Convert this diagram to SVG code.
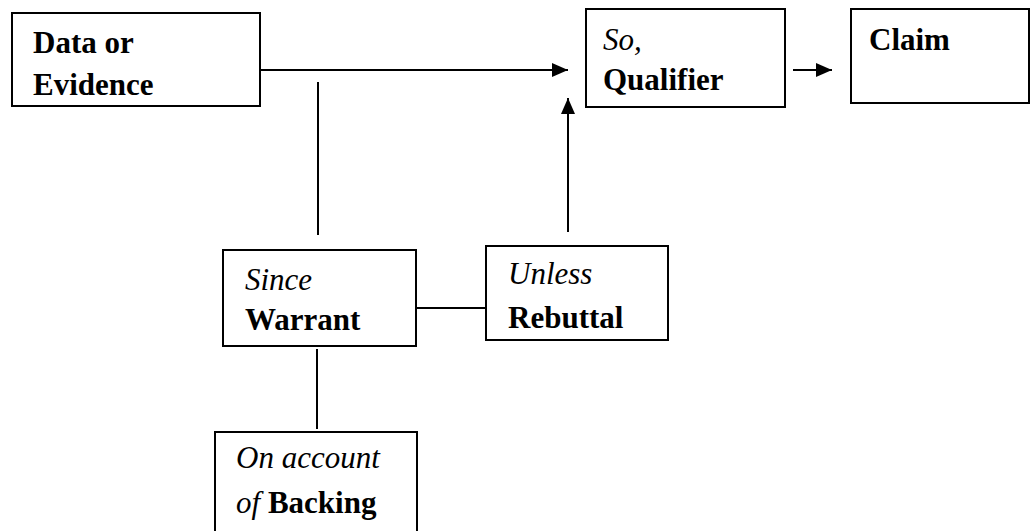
<svg xmlns="http://www.w3.org/2000/svg" width="1031" height="531" viewBox="0 0 1031 531">
<defs>
<marker id="arr" viewBox="0 0 16 14" refX="16" refY="7" markerWidth="16" markerHeight="14" markerUnits="userSpaceOnUse" orient="auto">
<path d="M0,0 L16,7 L0,14 Z" fill="#000"/>
</marker>
<style>
.box{fill:#fff;stroke:#000;stroke-width:2}
.ln{stroke:#000;stroke-width:2;fill:none}
text{font-family:'Liberation Serif','Times New Roman',Times,'DejaVu Serif',serif;font-size:31px;fill:#000}
.b{font-weight:bold}
.i{font-style:italic}
</style>
</defs>
<rect width="1031" height="531" fill="#fff"/>
<g id="connectors">
<line class="ln" x1="260" y1="70" x2="568" y2="70" marker-end="url(#arr)"/>
<line class="ln" x1="793" y1="70" x2="832" y2="70" marker-end="url(#arr)"/>
<line class="ln" x1="568" y1="232" x2="568" y2="98" marker-end="url(#arr)"/>
<line class="ln" x1="318" y1="82" x2="318" y2="235"/>
<line class="ln" x1="412" y1="308" x2="486" y2="308"/>
<line class="ln" x1="317" y1="349" x2="317" y2="429"/>
</g>
<g id="data">
<rect class="box" x="12" y="13" width="248" height="93"/>
<text class="b" x="33" y="53" font-family="Liberation Serif, serif">Data or</text>
<text class="b" x="33" y="95" font-family="Liberation Serif, serif">Evidence</text>
</g>
<g id="qualifier">
<rect class="box" x="586" y="9" width="199" height="98"/>
<text class="i" x="603" y="50" font-family="Liberation Serif, serif">So,</text>
<text class="b" x="603" y="90" font-family="Liberation Serif, serif">Qualifier</text>
</g>
<g id="claim">
<rect class="box" x="851" y="9" width="178" height="94"/>
<text class="b" x="869" y="50" font-family="Liberation Serif, serif">Claim</text>
</g>
<g id="warrant">
<rect class="box" x="223" y="250" width="193" height="96"/>
<text class="i" x="245" y="290" font-family="Liberation Serif, serif">Since</text>
<text class="b" x="245" y="330" font-family="Liberation Serif, serif">Warrant</text>
</g>
<g id="rebuttal">
<rect class="box" x="486" y="246" width="182" height="94"/>
<text class="i" x="508" y="284" font-family="Liberation Serif, serif">Unless</text>
<text class="b" x="508" y="328" font-family="Liberation Serif, serif">Rebuttal</text>
</g>
<g id="backing">
<rect class="box" x="215" y="432" width="202" height="110"/>
<text class="i" x="236" y="468" font-family="Liberation Serif, serif">On account</text>
<text x="236" y="513" font-family="Liberation Serif, serif"><tspan class="i">of</tspan> <tspan class="b">Backing</tspan></text>
</g>
</svg>
